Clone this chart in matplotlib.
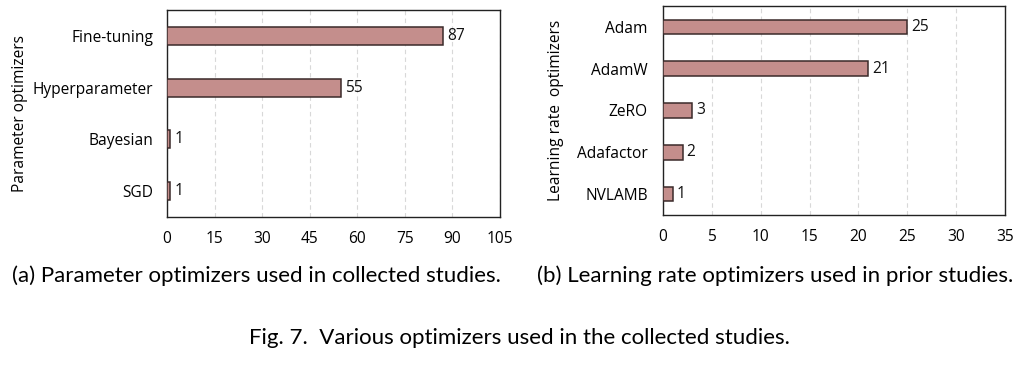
import matplotlib
matplotlib.use("Agg")
import matplotlib.pyplot as plt

param_labels = ["Fine-tuning", "Hyperparameter", "Bayesian", "SGD"]
param_values = [87, 55, 1, 1]
param_ticks = [0, 15, 30, 45, 60, 75, 90, 105]

lr_labels = ["Adam", "AdamW", "ZeRO", "Adafactor", "NVLAMB"]
lr_values = [25, 21, 3, 2, 1]
lr_ticks = [0, 5, 10, 15, 20, 25, 30, 35]

W, H = 1036, 368
fig = plt.figure(figsize=(W / 100, H / 100), dpi=100)

BAR = "#c48e8c"
EDGE = "#3a2a2a"
FONT = "Open Sans"
FS = 11.2

def make_ax(rect, labels, values, ticks, ylabel, xlim, label_x, ypad):
    ax = fig.add_axes(rect)
    y = list(range(len(labels)))[::-1]
    ax.barh(y, values, height=0.35, color=BAR, edgecolor=EDGE, linewidth=1.1, zorder=3)
    for yi, v in zip(y, values):
        ax.text(v + xlim * 0.012, yi, str(v), va="center", ha="left",
                fontsize=FS, family=FONT, color="#111111")
    ax.set_yticks(y)
    ax.set_yticklabels(labels, fontsize=FS, family=FONT)
    ax.set_xticks(ticks)
    ax.set_xticklabels([str(t) for t in ticks], fontsize=FS, family=FONT)
    ax.set_xlim(0, xlim)
    ax.set_ylim(-0.5, len(labels) - 0.5)
    ax.tick_params(axis="y", length=0, pad=ypad)
    ax.tick_params(axis="x", length=0, pad=10)
    ax.grid(axis="x", linestyle=(0, (4, 3)), color="#d8d8d8", linewidth=0.8, zorder=0)
    for s in ax.spines.values():
        s.set_linewidth(1.0)
        s.set_color("#222222")
    ax.set_ylabel(ylabel, fontsize=FS, family=FONT)
    ax.yaxis.set_label_coords(label_x, 0.5)
    return ax

make_ax([167 / W, 1 - 217 / H, (500 - 167) / W, (217 - 10) / H],
        param_labels, param_values, param_ticks, "Parameter optimizers", 105,
        (28 - 167) / 333, 10)
make_ax([663 / W, 1 - 215 / H, (1005 - 663) / W, (215 - 6) / H],
        lr_labels, lr_values, lr_ticks, "Learning rate  optimizers", 35,
        (564 - 663) / 342, 11)

CF = 16
fig.text(256 / W, 1 - 276 / H, "(a) Parameter optimizers used in collected studies.",
         ha="center", va="center", fontsize=CF, family="Lato")
fig.text(775 / W, 1 - 276 / H, "(b) Learning rate optimizers used in prior studies.",
         ha="center", va="center", fontsize=CF, family="Lato")
fig.text(519 / W, 1 - 338 / H, "Fig. 7.  Various optimizers used in the collected studies.",
         ha="center", va="center", fontsize=CF, family="Lato")

fig.savefig("out.png", dpi=100)
